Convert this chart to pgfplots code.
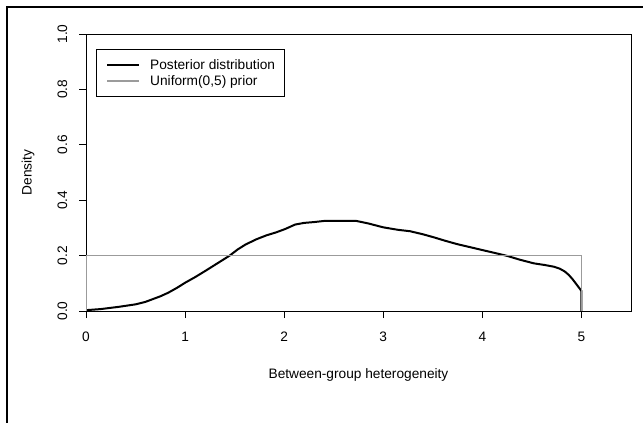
\documentclass[border=0pt]{standalone}
\usepackage{pgfplots}
\pgfplotsset{compat=1.18}
\usepackage{fontspec}
\setmainfont{Liberation Sans}
\definecolor{priorgray}{RGB}{155,155,155}
\begin{document}
\begin{tikzpicture}
  \useasboundingbox (0,0) rectangle (643bp,423bp);
  % outer frame (only top and left edges are in the crop)
  \draw[line width=2bp] (6.7bp,0) -- (6.7bp,416.3bp) -- (643bp,416.3bp);
  \begin{axis}[
    at={(86bp,112bp)}, anchor=south west,
    width=545bp, height=277bp, scale only axis,
    xmin=0, xmax=5.5, ymin=0, ymax=1,
    axis line style={line width=0.8bp},
    tick style={line width=0.8bp, black},
    tick align=outside, major tick length=7bp,
    xtick={0,1,2,3,4,5}, xticklabels={0,1,2,3,4,5},
    ytick={0,0.2,0.4,0.6,0.8,1}, yticklabels={0.0,0.2,0.4,0.6,0.8,1.0},
    xtick pos=bottom, ytick pos=left,
    font=\fontsize{13.7bp}{16bp}\selectfont,
    xticklabel style={yshift=-10.5bp},
    yticklabel style={xshift=-8.2bp, rotate=90, anchor=south},
    xlabel={Between-group heterogeneity},
    ylabel={Density},
    xlabel style={at={(axis description cs:0.5,-0.2292)}, anchor=center},
    ylabel style={at={(axis description cs:-0.1064,0.5)}, anchor=center},
    legend style={at={(rel axis cs:0.0189,0.947)}, anchor=north west,
      draw=black, line width=0.8bp, font=\fontsize{13.7bp}{16bp}\selectfont,
      inner xsep=9.5bp, inner ysep=9.6bp, row sep=4.6bp, column sep=10.6bp,
      nodes={inner sep=0pt, text height=10.5bp, text depth=1.5bp},
      cells={anchor=west}},
    legend image code/.code={\path (0bp,0bp) -- (2.5bp,0bp);
      \draw[#1] (2.5bp,0bp) -- (31.4bp,0bp);},
  ]
  \addplot[black, line width=2bp] coordinates {
    (0,0.003)(0.15,0.007)(0.33,0.015)(0.5,0.024)(0.6,0.033)(0.66,0.041)
    (0.75,0.053)(0.83,0.066)(0.92,0.084)(1.0,0.102)(1.1,0.122)(1.21,0.146)
    (1.33,0.173)(1.45,0.200)(1.53,0.222)(1.61,0.240)(1.72,0.259)(1.82,0.273)
    (1.92,0.284)(2.01,0.296)(2.11,0.312)(2.2,0.318)(2.3,0.321)(2.4,0.325)
    (2.55,0.325)(2.73,0.325)(2.85,0.316)(3.0,0.302)(3.15,0.293)(3.27,0.288)
    (3.4,0.277)(3.51,0.266)(3.63,0.253)(3.75,0.241)(3.87,0.231)(4.0,0.220)
    (4.12,0.210)(4.25,0.199)(4.38,0.185)(4.52,0.172)(4.63,0.166)(4.72,0.160)
    (4.78,0.153)(4.83,0.143)(4.87,0.131)(4.91,0.115)(4.95,0.096)(4.98,0.082)
    (5.0,0.072)(5.0,0)
  };
  \addlegendentry{Posterior distribution}
  \addlegendimage{priorgray, line width=1.7bp}
  \addlegendentry{Uniform(0,5) prior}
  \addplot[priorgray, line width=1bp, forget plot] coordinates {
    (0,0)(0,0.2)(5,0.2)(5,0)
  };
  \end{axis}
\end{tikzpicture}
\end{document}
